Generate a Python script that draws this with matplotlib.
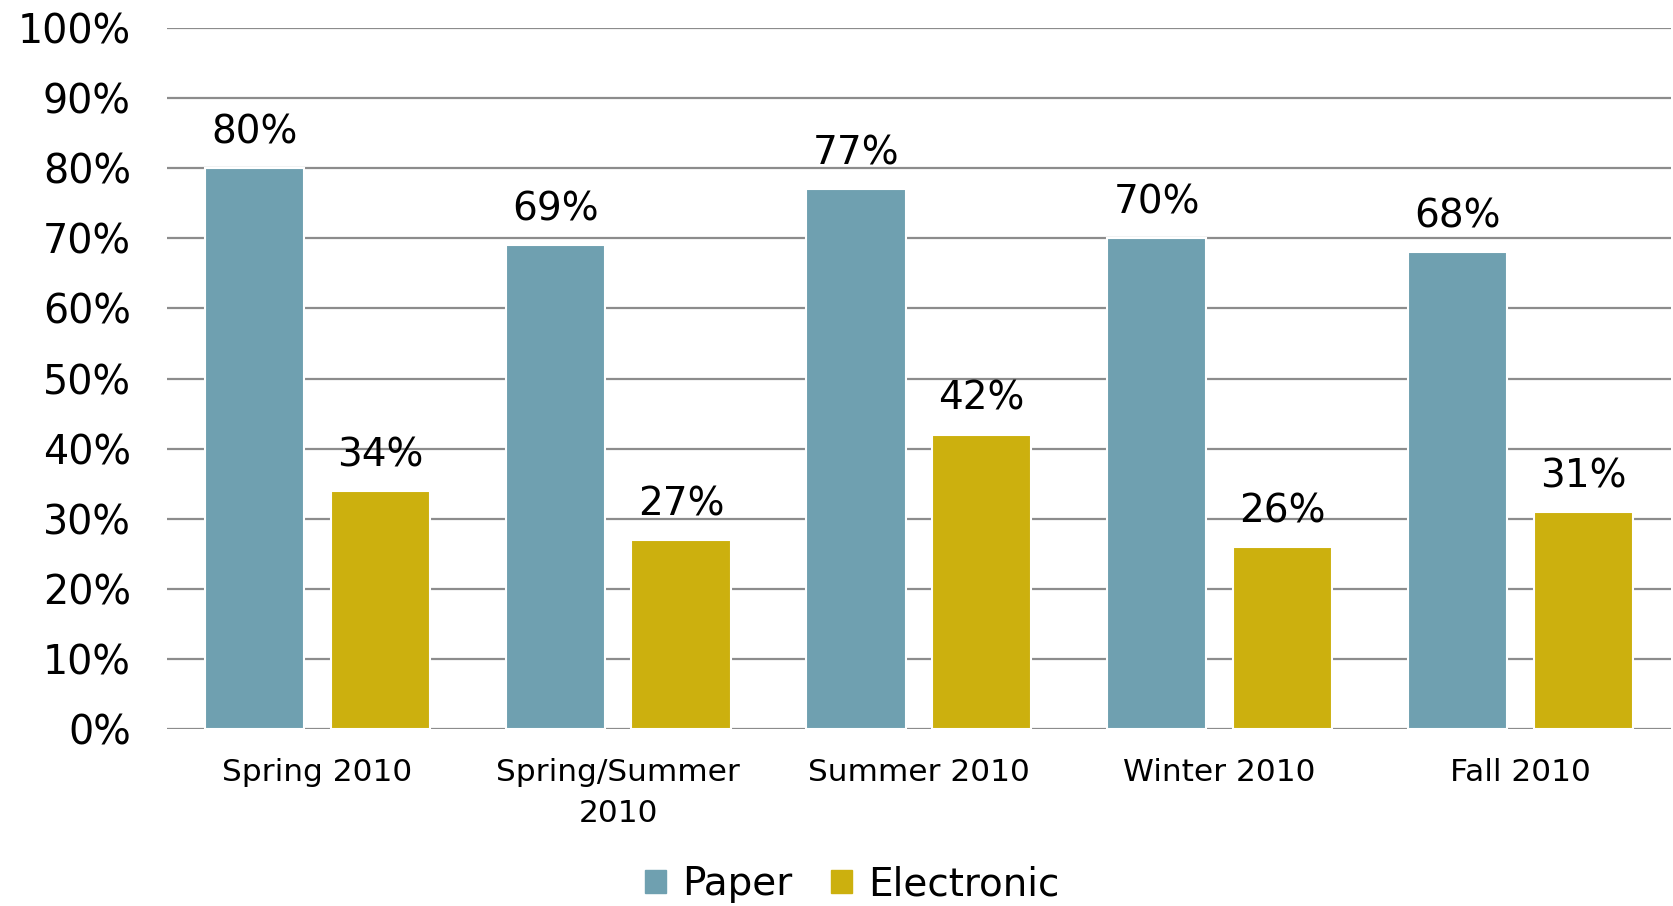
import matplotlib.pyplot as plt
import numpy as np
from matplotlib.patches import Rectangle

# survey response rates by term
terms = ['Spring 2010', 'Spring/Summer\n2010', 'Summer 2010', 'Winter 2010', 'Fall 2010']
paper = [80, 69, 77, 70, 68]
electronic = [34, 27, 42, 26, 31]

paper_color = '#6FA0B0'
elec_color = '#CCB00E'

plt.rcParams['font.family'] = ['DejaVu Sans']

fig = plt.figure(figsize=(16.74, 9.06), dpi=100)
ax = fig.add_axes([0.0998, 0.1954, 0.8982, 0.7736])

x = np.arange(len(terms))
w = 0.33
off = 0.209

b1 = ax.bar(x - off, paper, w, color=paper_color, edgecolor='white', linewidth=1.5, zorder=3)
b2 = ax.bar(x + off, electronic, w, color=elec_color, edgecolor='white', linewidth=1.5, zorder=3)

# value labels above each bar
for bars, vals in ((b1, paper), (b2, electronic)):
    for bar, v in zip(bars, vals):
        ax.annotate('%d%%' % v, (bar.get_x() + bar.get_width() / 2, v),
                    xytext=(0, 12), textcoords='offset points',
                    ha='center', va='bottom', fontsize=28)

ax.set_xlim(-0.5, len(terms) - 0.5)
ax.set_ylim(0, 100)
ax.set_yticks(range(0, 101, 10))
ax.set_yticklabels(['%d%%' % t for t in range(0, 101, 10)], fontsize=28.5)
ax.set_xticks(x)
ax.set_xticklabels(terms, fontsize=22.5, linespacing=1.5)
ax.tick_params(axis='x', length=0, pad=21)
ax.tick_params(axis='y', length=0, pad=26)

ax.yaxis.grid(True, color='#8c8c8c', linewidth=1.6, zorder=0)
ax.set_axisbelow(True)
for s in ax.spines.values():
    s.set_visible(False)

# legend along the bottom
handles = [Rectangle((0, 0), 1, 1, color=paper_color), Rectangle((0, 0), 1, 1, color=elec_color)]
fig.legend(handles, ['Paper', 'Electronic'], loc='center', bbox_to_anchor=(0.509, 0.024),
           ncol=2, frameon=False, fontsize=28, handlelength=0.55, handleheight=0.55,
           handletextpad=0.4, columnspacing=1.0)

fig.savefig('out.png', dpi=100)
